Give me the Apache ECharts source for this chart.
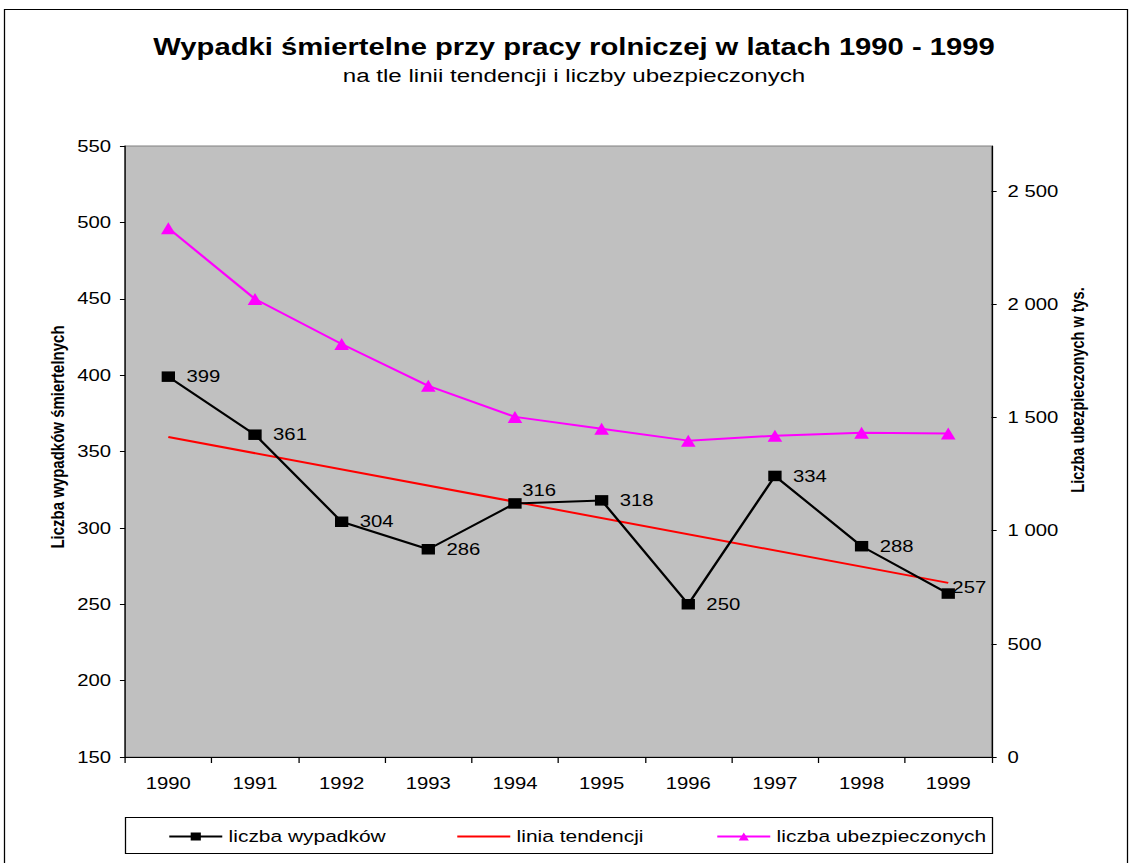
<!DOCTYPE html>
<html>
<head>
<meta charset="utf-8">
<script src="https://cdn.jsdelivr.net/npm/echarts@6/dist/echarts.min.js"></script>
<style>
html,body{margin:0;padding:0;background:#fff;overflow:hidden;}
#chart{height:863px;transform-origin:0 0;}
</style>
</head>
<body>
<div id="chart"></div>
<script>
const years = ['1990','1991','1992','1993','1994','1995','1996','1997','1998','1999'];
const wypadki = [399, 361, 304, 286, 316, 318, 250, 334, 288, 257];
const tendencja = [359.5, null, null, null, null, null, null, null, null, 264];
const ubezpieczeni = [2337, 2024, 1825, 1640, 1503, 1451, 1398, 1420, 1433, 1429];
const leftTicks = {min: 150, max: 550, interval: 50};
const rightTicks = {min: 0, max: 2700, interval: 500};
const rightTickValues = [0, 500, 1000, 1500, 2000, 2500];

// The original picture is stretched horizontally; draw narrower and stretch the page element.
const S = 1.27;
const W = 1132;
const h = (x) => x / S;

const dom = document.getElementById('chart');
dom.style.width = (W / S) + 'px';
dom.style.transform = 'scaleX(' + S + ')';

const FONT = '"Liberation Sans", Arial, sans-serif';
const chart = echarts.init(dom, null, {renderer: 'svg'});

const labelFor = (i) => {
  if (i === 4) return {position: 'right', offset: [-4.5, -13]};
  if (i === 9) return {position: 'right', offset: [-7, -6]};
  return {position: 'right', offset: [4, 0]};
};

const legendBase = {top: 828, padding: 0, itemWidth: h(53), itemHeight: 10, itemGap: 4,
  textStyle: {color: '#000', fontFamily: FONT, fontSize: 16.5}};

chart.setOption({
  backgroundColor: '#ffffff',
  animation: false,
  grid: {left: h(125), right: h(W - 992), top: 146, bottom: 106, show: true,
         backgroundColor: '#c0c0c0', borderColor: '#808080', borderWidth: 1},
  xAxis: {
    type: 'category', data: years, boundaryGap: true,
    axisLine: {lineStyle: {color: '#000', width: 1}},
    axisTick: {show: true, alignWithLabel: false, length: 6, lineStyle: {color: '#000'}},
    axisLabel: {color: '#000', fontFamily: FONT, fontSize: 16, margin: 18}
  },
  yAxis: [
    {type: 'value', min: leftTicks.min, max: leftTicks.max, interval: leftTicks.interval,
     position: 'left',
     axisLine: {show: true, lineStyle: {color: '#000', width: 1}},
     axisTick: {show: true, length: 4, lineStyle: {color: '#000'}},
     splitLine: {show: false},
     axisLabel: {color: '#000', fontFamily: FONT, fontSize: 16, margin: h(14)}},
    {type: 'value', min: rightTicks.min, max: rightTicks.max, interval: rightTicks.interval,
     position: 'right',
     axisLine: {show: true, lineStyle: {color: '#000', width: 1}},
     axisTick: {show: true, length: 4, lineStyle: {color: '#000'}, customValues: rightTickValues},
     splitLine: {show: false},
     axisLabel: {color: '#000', fontFamily: FONT, fontSize: 16, margin: h(16),
       customValues: rightTickValues,
       formatter: v => (v % 500 === 0) ? String(v).replace(/\B(?=(\d{3})+(?!\d))/g, ' ') : ''}}
  ],
  legend: [
    Object.assign({data: ['liczba wypadków'], left: h(168)}, legendBase),
    Object.assign({data: ['linia tendencji'], left: h(456), itemStyle: {opacity: 0}}, legendBase),
    Object.assign({data: ['liczba ubezpieczonych'], left: h(716)}, legendBase)
  ],
  series: [
    {name: 'liczba ubezpieczonych', type: 'line', yAxisIndex: 1, data: ubezpieczeni,
     symbol: 'triangle', symbolSize: [11.5, 12], z: 3,
     lineStyle: {color: '#ff00ff', width: 2}, itemStyle: {color: '#ff00ff'}},
    {name: 'linia tendencji', type: 'line', yAxisIndex: 0, data: tendencja, connectNulls: true,
     showSymbol: false, symbol: 'none', z: 2,
     lineStyle: {color: '#ff0000', width: 2}, itemStyle: {color: '#ff0000'}},
    {name: 'liczba wypadków', type: 'line', yAxisIndex: 0, z: 4,
     data: wypadki.map((v, i) => ({value: v, label: labelFor(i)})),
     symbol: 'rect', symbolSize: 10.5,
     lineStyle: {color: '#000', width: 2}, itemStyle: {color: '#000'},
     label: {show: true, color: '#000', fontFamily: FONT, fontSize: 16}}
  ],
  graphic: [
    {type: 'rect', silent: true, z: -10, shape: {x: h(4.5), y: 9.5, width: h(1123), height: 870},
     style: {fill: 'none', stroke: '#000', lineWidth: 1}},
    {type: 'rect', silent: true, z: -1, shape: {x: h(125.5), y: 817.5, width: h(867), height: 36},
     style: {fill: '#fff', stroke: '#000', lineWidth: 1}},
    {type: 'text', x: h(574), y: 47, style: {text: 'Wypadki śmiertelne przy pracy rolniczej w latach 1990 - 1999',
     font: 'bold 23px ' + FONT, fill: '#000', textAlign: 'center', textVerticalAlign: 'middle'}},
    {type: 'text', x: h(574), y: 75, style: {text: 'na tle linii tendencji i liczby ubezpieczonych',
     font: '19px ' + FONT, fill: '#000', textAlign: 'center', textVerticalAlign: 'middle'}},
    {type: 'text', x: h(57), y: 437, rotation: Math.PI / 2, style: {text: 'Liczba wypadków śmiertelnych',
     font: 'bold 15px ' + FONT, fill: '#000', textAlign: 'center', textVerticalAlign: 'middle'}},
    {type: 'text', x: h(1078), y: 390, rotation: Math.PI / 2, style: {text: 'Liczba ubezpieczonych w tys.',
     font: 'bold 14.5px ' + FONT, fill: '#000', textAlign: 'center', textVerticalAlign: 'middle'}}
  ]
});
</script>
</body>
</html>
